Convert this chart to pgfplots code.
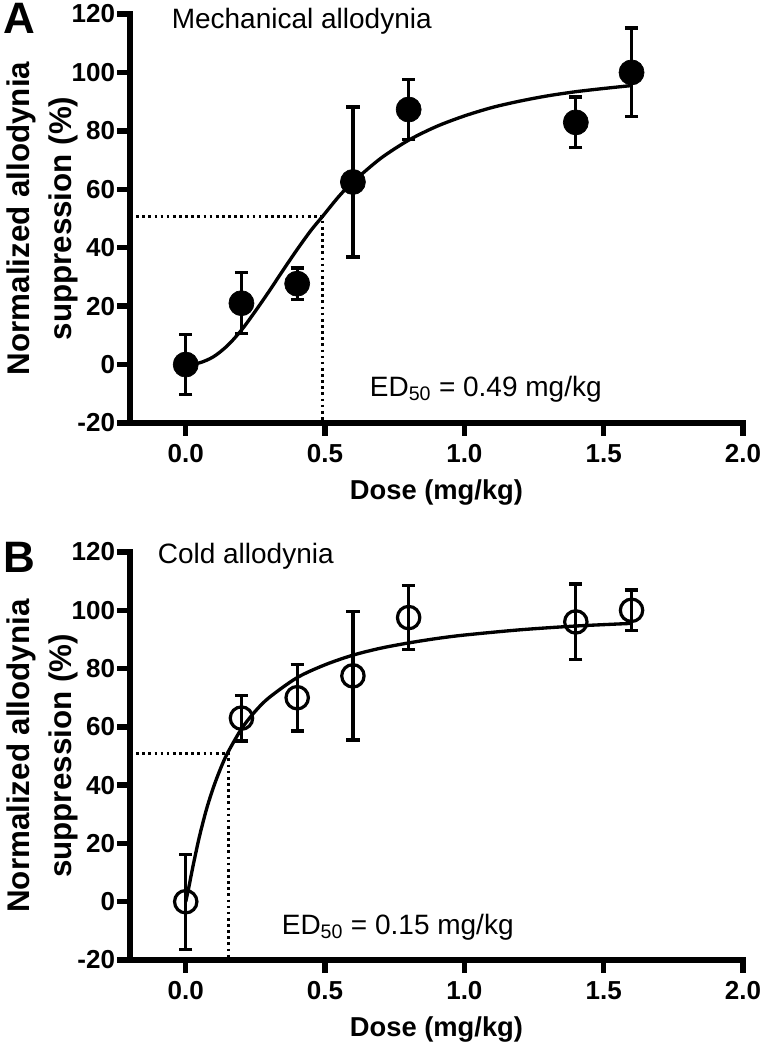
\documentclass[border=0pt]{standalone}
\usepackage{pgfplots}
\pgfplotsset{compat=1.18}
\usepackage{fontspec}
\setmainfont{Liberation Sans}
\begin{document}
\begin{tikzpicture}
\useasboundingbox (0,0) rectangle (572.25pt,787.5pt);
\pgfplotsset{
  panel/.style={
    scale only axis, width=459.75pt, height=306.75pt,
    xmin=-0.2, xmax=2.0, ymin=-20, ymax=120,
    axis lines*=left, xtick pos=left, ytick pos=left,
    axis line style={line width=4pt, line cap=rect},
    tick align=outside, major tick length=9.5pt,
    tick style={line width=4pt, black},
    xtick={0,0.5,1,1.5,2}, xticklabels={0.0,0.5,1.0,1.5,2.0},
    ytick={-20,0,20,40,60,80,100,120},
    yticklabels={-20,0,20,40,60,80,100,120},
    tick label style={font=\bfseries\fontsize{19.5}{19.5}\selectfont},
    yticklabel style={inner sep=1.5pt},
    xticklabel style={yshift=-3pt},
    xlabel={Dose (mg/kg)},
    xlabel style={at={(axis description cs:0.5,0)}, anchor=center, yshift=-52pt,
                  font=\bfseries\fontsize{20.5}{20.5}\selectfont},
    ylabel={Normalized allodynia\\suppression (\%)},
    ylabel style={at={(axis description cs:-0.143,0.5)}, anchor=center, align=center,
                  font=\bfseries\fontsize{23.5}{31}\selectfont},
    clip=false,
  },
  fit/.style={line width=2.5pt, black, smooth, no marks},
  guide/.style={line width=2.2pt, black, dash pattern=on 2pt off 2.6pt, no marks},
  ebar/.style={only marks, black,
    error bars/y dir=both, error bars/y explicit,
    error bars/error bar style={line width=2.5pt, black},
    error bars/error mark options={rotate=90, mark size=5pt, line width=2.5pt, black}},
}

% ---------------- Panel A ----------------
\begin{axis}[panel, at={(97.5pt,470.25pt)}, anchor=south west]
\addplot[guide] coordinates {(-0.2,50.6) (0.49,50.6) (0.49,-20)};
\addplot[fit] coordinates {
(0,0) (0.05,0.6) (0.1,2.7) (0.15,6.5) (0.2,11.8) (0.25,18.3) (0.3,25.2)
(0.35,32.4) (0.4,39.4) (0.45,46.0) (0.49,50.6) (0.55,57.6) (0.6,62.5)
(0.7,70.6) (0.8,76.8) (0.9,81.5) (1.0,85.1) (1.1,88.0) (1.2,90.2)
(1.3,92.0) (1.4,93.4) (1.5,94.5) (1.6,95.5)};
\addplot[ebar, mark=*, mark size=9.4pt, mark options={fill=black, draw=black, line width=0.5pt}]
coordinates {
(0,0) +- (0,10.3)
(0.2,21) +- (0,10.4)
(0.4,27.7) +- (0,5.4)
(0.6,62.5) +- (0,25.7)
(0.8,87.3) +- (0,10.3)
(1.4,82.9) +- (0,8.7)
(1.6,100) +- (0,15.2)};
\node[anchor=base west, font=\fontsize{21}{21}\selectfont] at (axis cs:-0.067,115.2) {Mechanical allodynia};
\node[anchor=base west, font=\fontsize{21}{21}\selectfont] at (axis cs:0.644,-11) {ED\textsubscript{50} = 0.49 mg/kg};
\end{axis}

% ---------------- Panel B ----------------
\begin{axis}[panel, at={(97.5pt,67.5pt)}, anchor=south west, height=306pt]
\addplot[guide] coordinates {(-0.2,51) (0.155,51) (0.155,-20)};
\addplot[fit] coordinates {
(0,0) (0.01,4.4) (0.02,9.3) (0.03,14.0) (0.05,22.7) (0.075,31.9) (0.1,39.4)
(0.125,45.7) (0.15,51) (0.2,59.3) (0.25,65.4) (0.3,70.1) (0.4,76.9)
(0.5,81.3) (0.6,84.6) (0.7,87.0) (0.8,88.8) (0.9,90.3) (1.0,91.5)
(1.2,93.3) (1.4,94.6) (1.6,95.5)};
\addplot[ebar, mark=o, mark size=8.4pt, mark options={fill=white, draw=black, line width=2.4pt}]
coordinates {
(0,0) +- (0,16.3)
(0.2,63) +- (0,7.8)
(0.4,70) +- (0,11.4)
(0.6,77.5) +- (0,22)
(0.8,97.5) +- (0,11)
(1.4,96) +- (0,13)
(1.6,100) +- (0,7)};
\node[anchor=base west, font=\fontsize{21}{21}\selectfont] at (axis cs:-0.117,116.2) {Cold allodynia};
\node[anchor=base west, font=\fontsize{21}{21}\selectfont] at (axis cs:0.328,-11.3) {ED\textsubscript{50} = 0.15 mg/kg};
\end{axis}

\node[anchor=base west, font=\bfseries\fontsize{33}{33}\selectfont, inner sep=0pt] at (2.25pt,762pt) {A};
\node[anchor=base west, font=\bfseries\fontsize{33}{33}\selectfont, inner sep=0pt] at (2.25pt,357.75pt) {B};
\end{tikzpicture}
\end{document}
